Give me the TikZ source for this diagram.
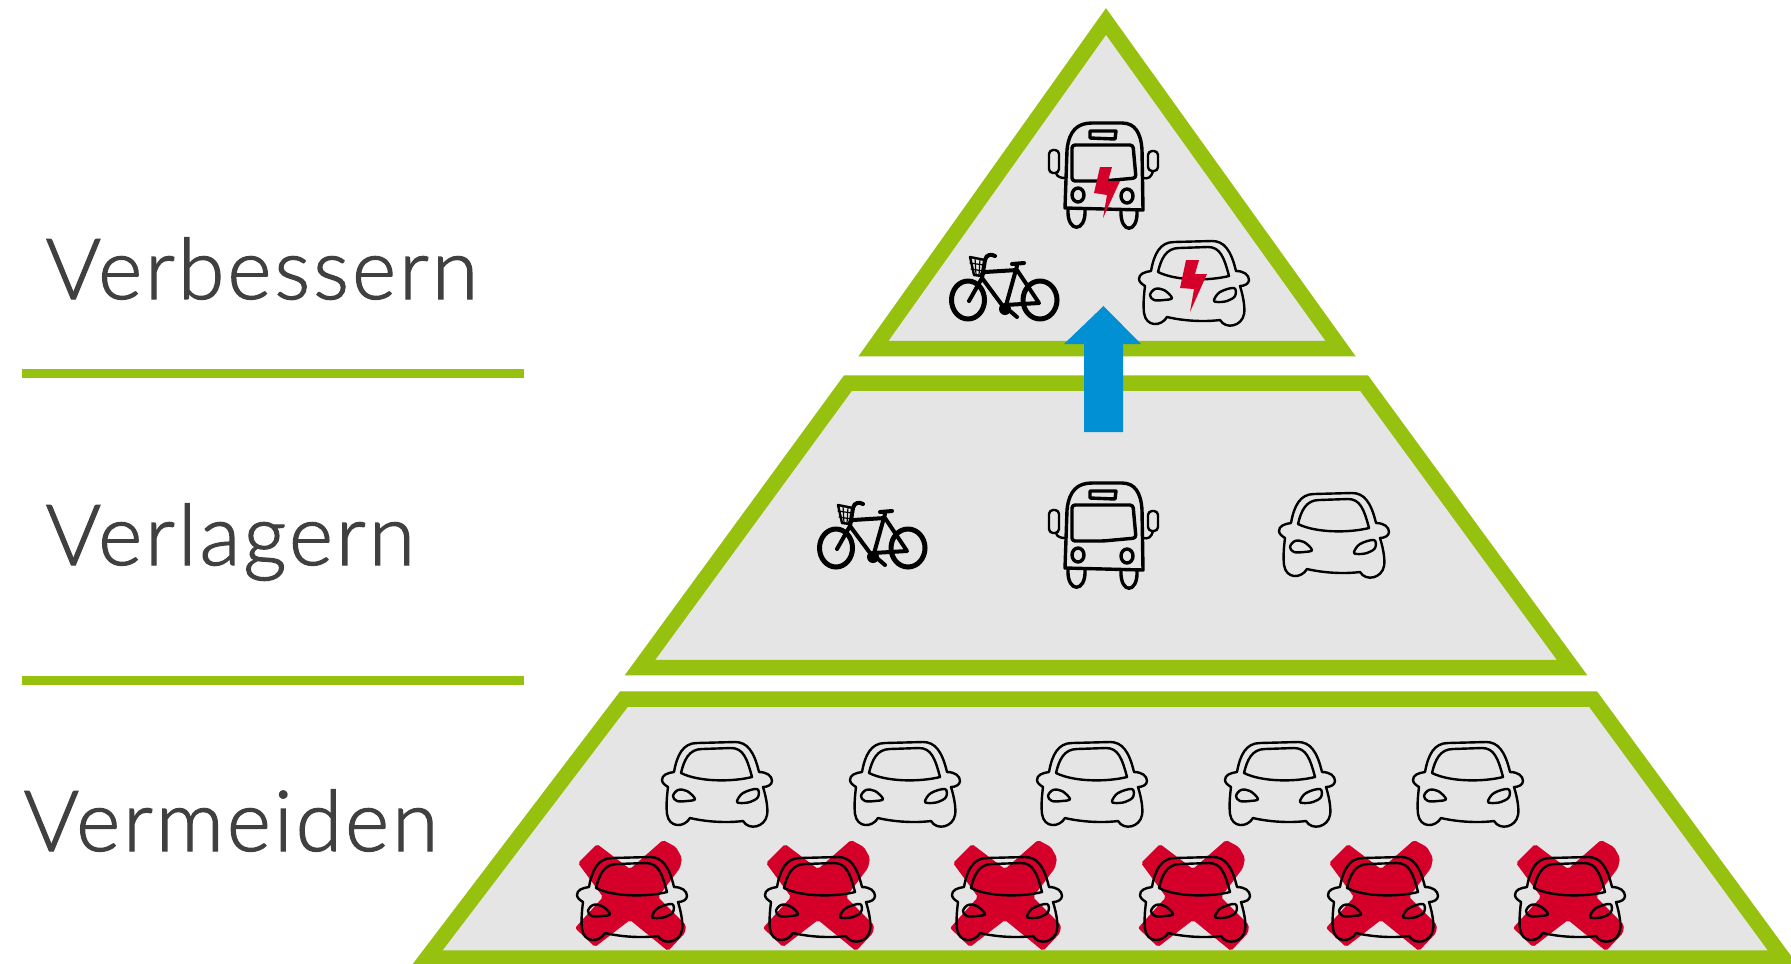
\documentclass[tikz,border=0pt]{standalone}
\usepackage{fontspec}
\setmainfont{Lato}
\newfontfamily\labelfont[LetterSpace=3.5,FakeBold=1.5]{Lato Light}
\definecolor{levelgreen}{HTML}{96C10E}
\definecolor{levelgrey}{HTML}{E5E5E5}
\definecolor{arrowblue}{HTML}{0090D3}
\definecolor{crossred}{HTML}{D50029}
\definecolor{labelgrey}{HTML}{404040}
\tikzset{
    level/.style={draw=levelgreen,fill=levelgrey,line width=0.155cm,miter limit=10},
    divider/.style={draw=levelgreen,line width=0.09cm},
    levellabel/.style={anchor=base west,inner sep=0pt,text=labelgrey,font=\labelfont\fontsize{24}{24}\selectfont},
    icon/.style={draw=black,line width=0.024cm,line join=round,line cap=round},
    iconbold/.style={draw=black,line width=0.034cm,line join=round,line cap=round},
    bolt/.style={fill=crossred},
    pics/car/.style={code={
        \draw[icon] (-55,-5) .. controls (-55,-10) and (-50,-12) .. (-43,-13) .. controls (-40,-30) and (-34,-42) .. (-20,-42) -- (18,-43) .. controls (30,-43) and (37,-34) .. (42,-13) .. controls (50,-13) and (55,-9) .. (55,-4) .. controls (55,0) and (50,2) .. (46,2) .. controls (50,15) and (51,25) .. (50,30) .. controls (48,42) and (32,46) .. (26,36) .. controls (10,38) and (-10,37) .. (-27,33) .. controls (-33,43) and (-48,43) .. (-50,29) .. controls (-51,20) and (-50,10) .. (-49,2) .. controls (-52,0) and (-55,-2) .. (-55,-5) -- cycle;
        \draw[icon] (-36,-12) .. controls (-33,-25) and (-28,-36) .. (-15,-36) -- (14,-37) .. controls (26,-37) and (30,-27) .. (35,-8) .. controls (15,-3) and (-18,-3) .. (-36,-12) -- cycle;
        \draw[icon] plot[smooth cycle,tension=0.6] coordinates {(-44,11) (-39,5) (-30,6) (-22,14) (-30,16) (-40,16)};
        \draw[icon] plot[smooth cycle,tension=0.6] coordinates {(20,16) (26,8) (40,4) (41,12) (33,17) (23,18)};
    }},
    pics/crossout/.style={code={
        \fill[crossred,rounded corners=0.02cm] (-54,-37) -- (-35,-56) -- (-2,-31) -- (31,-60) -- (44,-53) -- (50,-42) -- (48,-32) -- (26,-3) -- (54,25) -- (53,33) -- (36,51) -- (-2,20) -- (-37,47) -- (-57,28) -- (-29,-3) -- cycle;
    }},
    pics/bus/.style={code={
        \draw[iconbold] (-38,33) -- (-36,-25) .. controls (-34,-45) and (-25,-52) .. (-11,-52) -- (19,-52) .. controls (32,-52) and (38,-42) .. (39,-25) -- (40,35) -- cycle;
        \draw[iconbold,rounded corners=0.03cm] (-31,-30) -- (30,-30) -- (33,3) -- (0,6) -- (-31,6) -- cycle;
        \draw[iconbold] (-13,-44) -- (13,-44) -- (12,-36) -- (-13,-37) -- cycle;
        \draw[iconbold] (-25,20) circle [x radius=6,y radius=7];
        \draw[iconbold] (24,21) circle [x radius=6,y radius=7];
        \draw[iconbold] (-35,35) .. controls (-36,58) and (-17,58) .. (-18,35);
        \draw[iconbold] (18,36) .. controls (17,59) and (35,59) .. (34,36);
        \draw[icon,rounded corners=0.04cm] (-54,-25) rectangle (-44,-2);
        \draw[icon,rounded corners=0.04cm] (45,-24) rectangle (55,-4);
        \draw[icon] (-47,-2) .. controls (-46,2) and (-42,3) .. (-38,3);
        \draw[icon] (50,-4) .. controls (48,3) and (45,4) .. (40,3);
    }},
    pics/bike/.style={code={
        \draw[iconbold,line width=0.05cm] (-36,13) circle [x radius=16.5,y radius=19];
        \draw[iconbold,line width=0.05cm] (36,13) circle [x radius=17,y radius=19];
        \fill (1,22) circle (6);
        \draw[iconbold,line width=0.04cm] (-35,14) -- (-22,-9) -- (1,22) -- (13,-21);
        \draw[iconbold,line width=0.04cm] (-22,-13) -- (-19,-15) -- (13,-17) -- (35,16) -- (1,18);
        \draw[iconbold,line width=0.04cm] (8,-23) -- (20,-24);
        \draw[iconbold,line width=0.04cm] (6,24) -- (13,30);
        \draw[iconbold,line width=0.04cm] (-22,-9) -- (-19,-27) .. controls (-18,-33) and (-12,-33) .. (-9,-31);
        \draw[icon] (-34,-30) -- (-19,-27) -- (-22,-11) -- (-30,-12) -- cycle;
        \draw[icon,line width=0.012cm] (-34,-24) -- (-20,-22);
        \draw[icon,line width=0.012cm] (-33,-18) -- (-21,-16);
        \draw[icon,line width=0.012cm] (-29,-29) -- (-28,-12);
        \draw[icon,line width=0.012cm] (-24,-28) -- (-25,-12);
    }}
}
\begin{document}
\begin{tikzpicture}[x=0.01cm,y=-0.01cm]
            \useasboundingbox (0,0) rectangle (1791,963);
            \coordinate (topapex) at (1106,21.5);
            \coordinate (topright) at (1340.5,348.5);
            \coordinate (topleft) at (873.5,348.5);
            \coordinate (midA) at (848,383);
            \coordinate (midB) at (1364,383);
            \coordinate (midC) at (1572,667.5);
            \coordinate (midD) at (640,667.5);
            \coordinate (lowA) at (624,699);
            \coordinate (lowB) at (1593,699);
            \coordinate (lowC) at (1783,958);
            \coordinate (lowD) at (427,958);
            \draw[level] (topapex) -- (topright) -- (topleft) -- cycle;
            \draw[level] (midA) -- (midB) -- (midC) -- (midD) -- cycle;
            \draw[level] (lowA) -- (lowB) -- (lowC) -- (lowD) -- cycle;
            \coordinate (lineAl) at (22,373.5);
            \coordinate (lineAr) at (524,373.5);
            \coordinate (lineBl) at (22,680.5);
            \coordinate (lineBr) at (524,680.5);
            \draw[divider] (lineAl) -- (lineAr);
            \draw[divider] (lineBl) -- (lineBr);
            \node[levellabel] (verbessern) at (45,299) {Verbessern};
            \node[levellabel] (verlagern) at (45,565) {Verlagern};
            \node[levellabel] (vermeiden) at (23,851) {Vermeiden};
            \pic at (1103,175) {bus};
            \fill[bolt] (1103,175) ++(-3,-8) -- ++(12,0) -- ++(-4,14) -- ++(12,0) -- ++(-17,37) -- ++(4,-23) -- ++(-13,-2) -- cycle;
            \pic at (1004,287) {bike};
            \pic at (1194,284) {car};
            \fill[bolt] (1194,284) ++(-8,-24) -- ++(13,0) -- ++(-4,14) -- ++(12,0) -- ++(-17,38) -- ++(4,-23) -- ++(-14,-1) -- cycle;
            \pic at (872,535) {bike};
            \pic at (1103,535) {bus};
            \pic at (1334,536) {car};
            \pic at (717,785) {car};
            \pic at (905,785) {car};
            \pic at (1092,785) {car};
            \pic at (1280,785) {car};
            \pic at (1468,785) {car};
            \foreach \crossx in {632,820,1007,1195,1383,1570} {
                \pic at (\crossx,900) {crossout};
                \pic at (\crossx,900) {car};
            }
            \coordinate (arrowbase) at (1103.5,432);
            \coordinate (arrowtip) at (1103.5,306);
            \fill[arrowblue] (arrowbase) ++(-19.5,0) -- ++(0,-88) -- ++(-20,0) -- (arrowtip) -- (1141,344) -- ++(-18,0) -- ++(0,88) -- cycle;
        \end{tikzpicture}
\end{document}
